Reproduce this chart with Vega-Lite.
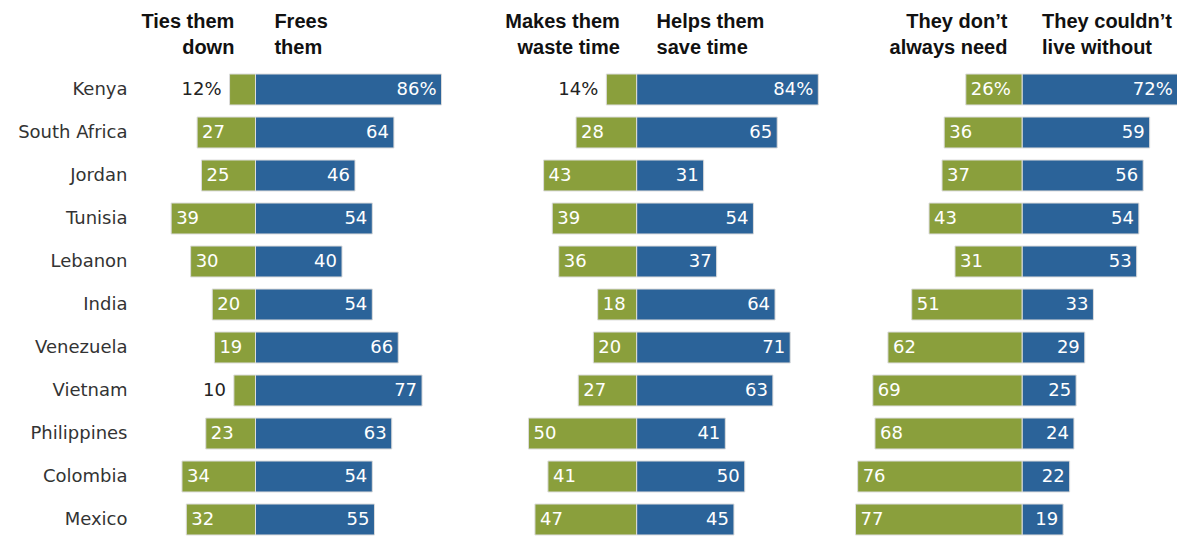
{
  "$schema": "https://vega.github.io/schema/vega-lite/v6.json",
  "background": "white",
  "padding": {"left": 17, "top": 11, "right": 0, "bottom": 0},
  "autosize": {"type": "pad"},
  "spacing": 0,
  "bounds": "flush",
  "config": {
    "view": {"stroke": null},
    "font": "DejaVu Sans",
    "text": {"font": "DejaVu Sans", "fontSize": 18, "baseline": "middle"}
  },
  "resolve": {"scale": {"x": "independent", "y": "independent"}},
  "datasets": {
    "d": [
      {"p": 1, "country": "Kenya", "left": 12, "right": 86},
      {"p": 1, "country": "South Africa", "left": 27, "right": 64},
      {"p": 1, "country": "Jordan", "left": 25, "right": 46},
      {"p": 1, "country": "Tunisia", "left": 39, "right": 54},
      {"p": 1, "country": "Lebanon", "left": 30, "right": 40},
      {"p": 1, "country": "India", "left": 20, "right": 54},
      {"p": 1, "country": "Venezuela", "left": 19, "right": 66},
      {"p": 1, "country": "Vietnam", "left": 10, "right": 77},
      {"p": 1, "country": "Philippines", "left": 23, "right": 63},
      {"p": 1, "country": "Colombia", "left": 34, "right": 54},
      {"p": 1, "country": "Mexico", "left": 32, "right": 55},
      {"p": 2, "country": "Kenya", "left": 14, "right": 84},
      {"p": 2, "country": "South Africa", "left": 28, "right": 65},
      {"p": 2, "country": "Jordan", "left": 43, "right": 31},
      {"p": 2, "country": "Tunisia", "left": 39, "right": 54},
      {"p": 2, "country": "Lebanon", "left": 36, "right": 37},
      {"p": 2, "country": "India", "left": 18, "right": 64},
      {"p": 2, "country": "Venezuela", "left": 20, "right": 71},
      {"p": 2, "country": "Vietnam", "left": 27, "right": 63},
      {"p": 2, "country": "Philippines", "left": 50, "right": 41},
      {"p": 2, "country": "Colombia", "left": 41, "right": 50},
      {"p": 2, "country": "Mexico", "left": 47, "right": 45},
      {"p": 3, "country": "Kenya", "left": 26, "right": 72},
      {"p": 3, "country": "South Africa", "left": 36, "right": 59},
      {"p": 3, "country": "Jordan", "left": 37, "right": 56},
      {"p": 3, "country": "Tunisia", "left": 43, "right": 54},
      {"p": 3, "country": "Lebanon", "left": 31, "right": 53},
      {"p": 3, "country": "India", "left": 51, "right": 33},
      {"p": 3, "country": "Venezuela", "left": 62, "right": 29},
      {"p": 3, "country": "Vietnam", "left": 69, "right": 25},
      {"p": 3, "country": "Philippines", "left": 68, "right": 24},
      {"p": 3, "country": "Colombia", "left": 76, "right": 22},
      {"p": 3, "country": "Mexico", "left": 77, "right": 19}
    ]
  },
  "hconcat": [
    {
      "width": 302.8,
      "height": 473,
      "data": {"name": "d"},
      "transform": [
        {"filter": "datum.p == 1"},
        {"calculate": "-datum.left", "as": "neg"},
        {"calculate": "datum.country == 'Kenya' ? datum.left + '%' : '' + datum.left", "as": "ltxt"},
        {"calculate": "datum.country == 'Kenya' ? datum.right + '%' : '' + datum.right", "as": "rtxt"}
      ],
      "encoding": {
        "y": {
          "field": "country", "type": "nominal", "sort": null,
          "scale": {"paddingInner": 0.28, "paddingOuter": 0.14},
          "axis": {"title": null, "domain": false, "ticks": false, "labelFont": "DejaVu Sans", "labelFontSize": 18, "labelColor": "#333333", "labelPadding": 42}
        }
      },
      "layer": [
        {
          "mark": {"type": "bar", "color": "#2b6399", "stroke": "#dcdcdc", "strokeWidth": 1},
          "encoding": {
            "x": {
              "field": "right", "type": "quantitative",
              "scale": {"domain": [-40, 100], "nice": false},
              "axis": {
                "orient": "top", "values": [-10, 8.5], "title": null, "domain": false, "ticks": false, "grid": false,
                "labelExpr": "datum.value < 0 ? ['Ties them', 'down'] : ['Frees', 'them']",
                "labelAlign": {"condition": {"test": "datum.value < 0", "value": "right"}, "value": "left"},
                "labelFont": "Liberation Sans", "labelFontWeight": "bold", "labelFontSize": 20, "labelColor": "#111111",
                "labelLineHeight": 26, "labelPadding": 37, "labelFlush": false, "labelOverlap": false, "labelBound": false
              }
            }
          }
        },
        {
          "mark": {"type": "bar", "color": "#8a9f3c", "stroke": "#dcdcdc", "strokeWidth": 1},
          "encoding": {"x": {"field": "neg", "type": "quantitative"}}
        },
        {
          "mark": {"type": "rule", "color": "#8c8c8c", "strokeWidth": 1.5},
          "encoding": {"x": {"datum": 0}}
        },
        {
          "mark": {"type": "text", "align": "right", "dx": -5, "color": "white"},
          "encoding": {"x": {"field": "right", "type": "quantitative"}, "text": {"field": "rtxt"}}
        },
        {
          "transform": [{"filter": "datum.left >= 15"}],
          "mark": {"type": "text", "align": "left", "dx": 5, "color": "white"},
          "encoding": {"x": {"field": "neg", "type": "quantitative"}, "text": {"field": "ltxt"}}
        },
        {
          "transform": [{"filter": "datum.left < 15"}],
          "mark": {"type": "text", "align": "right", "dx": -8, "color": "#222222"},
          "encoding": {"x": {"field": "neg", "type": "quantitative"}, "text": {"field": "ltxt"}}
        }
      ]
    },
    {
      "width": 376.6,
      "height": 473,
      "data": {"name": "d"},
      "transform": [
        {"filter": "datum.p == 2"},
        {"calculate": "-datum.left", "as": "neg"},
        {"calculate": "datum.country == 'Kenya' ? datum.left + '%' : '' + datum.left", "as": "ltxt"},
        {"calculate": "datum.country == 'Kenya' ? datum.right + '%' : '' + datum.right", "as": "rtxt"}
      ],
      "encoding": {
        "y": {
          "field": "country", "type": "nominal", "sort": null,
          "scale": {"paddingInner": 0.28, "paddingOuter": 0.14},
          "axis": null
        }
      },
      "layer": [
        {
          "mark": {"type": "bar", "color": "#2b6399", "stroke": "#dcdcdc", "strokeWidth": 1},
          "encoding": {
            "x": {
              "field": "right", "type": "quantitative",
              "scale": {"domain": [-76.1, 98], "nice": false},
              "axis": {
                "orient": "top", "values": [-8, 9], "title": null, "domain": false, "ticks": false, "grid": false,
                "labelExpr": "datum.value < 0 ? ['Makes them', 'waste time'] : ['Helps them', 'save time']",
                "labelAlign": {"condition": {"test": "datum.value < 0", "value": "right"}, "value": "left"},
                "labelFont": "Liberation Sans", "labelFontWeight": "bold", "labelFontSize": 20, "labelColor": "#111111",
                "labelLineHeight": 26, "labelPadding": 37, "labelFlush": false, "labelOverlap": false, "labelBound": false
              }
            }
          }
        },
        {
          "mark": {"type": "bar", "color": "#8a9f3c", "stroke": "#dcdcdc", "strokeWidth": 1},
          "encoding": {"x": {"field": "neg", "type": "quantitative"}}
        },
        {
          "mark": {"type": "rule", "color": "#8c8c8c", "strokeWidth": 1.5},
          "encoding": {"x": {"datum": 0}}
        },
        {
          "mark": {"type": "text", "align": "right", "dx": -5, "color": "white"},
          "encoding": {"x": {"field": "right", "type": "quantitative"}, "text": {"field": "rtxt"}}
        },
        {
          "transform": [{"filter": "datum.left >= 15"}],
          "mark": {"type": "text", "align": "left", "dx": 5, "color": "white"},
          "encoding": {"x": {"field": "neg", "type": "quantitative"}, "text": {"field": "ltxt"}}
        },
        {
          "transform": [{"filter": "datum.left < 15"}],
          "mark": {"type": "text", "align": "right", "dx": -8, "color": "#222222"},
          "encoding": {"x": {"field": "neg", "type": "quantitative"}, "text": {"field": "ltxt"}}
        }
      ]
    },
    {
      "width": 328.8,
      "height": 473,
      "data": {"name": "d"},
      "transform": [
        {"filter": "datum.p == 3"},
        {"calculate": "-datum.left", "as": "neg"},
        {"calculate": "datum.country == 'Kenya' ? datum.left + '%' : '' + datum.left", "as": "ltxt"},
        {"calculate": "datum.country == 'Kenya' ? datum.right + '%' : '' + datum.right", "as": "rtxt"}
      ],
      "encoding": {
        "y": {
          "field": "country", "type": "nominal", "sort": null,
          "scale": {"paddingInner": 0.28, "paddingOuter": 0.14},
          "axis": null
        }
      },
      "layer": [
        {
          "mark": {"type": "bar", "color": "#2b6399", "stroke": "#dcdcdc", "strokeWidth": 1},
          "encoding": {
            "x": {
              "field": "right", "type": "quantitative",
              "scale": {"domain": [-80, 72], "nice": false},
              "axis": {
                "orient": "top", "values": [-7, 9], "title": null, "domain": false, "ticks": false, "grid": false,
                "labelExpr": "datum.value < 0 ? ['They don\u2019t', 'always need'] : ['They couldn\u2019t', 'live without']",
                "labelAlign": {"condition": {"test": "datum.value < 0", "value": "right"}, "value": "left"},
                "labelFont": "Liberation Sans", "labelFontWeight": "bold", "labelFontSize": 20, "labelColor": "#111111",
                "labelLineHeight": 26, "labelPadding": 37, "labelFlush": false, "labelOverlap": false, "labelBound": false
              }
            }
          }
        },
        {
          "mark": {"type": "bar", "color": "#8a9f3c", "stroke": "#dcdcdc", "strokeWidth": 1},
          "encoding": {"x": {"field": "neg", "type": "quantitative"}}
        },
        {
          "mark": {"type": "rule", "color": "#8c8c8c", "strokeWidth": 1.5},
          "encoding": {"x": {"datum": 0}}
        },
        {
          "mark": {"type": "text", "align": "right", "dx": -5, "color": "white"},
          "encoding": {"x": {"field": "right", "type": "quantitative"}, "text": {"field": "rtxt"}}
        },
        {
          "transform": [{"filter": "datum.left >= 15"}],
          "mark": {"type": "text", "align": "left", "dx": 5, "color": "white"},
          "encoding": {"x": {"field": "neg", "type": "quantitative"}, "text": {"field": "ltxt"}}
        },
        {
          "transform": [{"filter": "datum.left < 15"}],
          "mark": {"type": "text", "align": "right", "dx": -8, "color": "#222222"},
          "encoding": {"x": {"field": "neg", "type": "quantitative"}, "text": {"field": "ltxt"}}
        }
      ]
    }
  ]
}
